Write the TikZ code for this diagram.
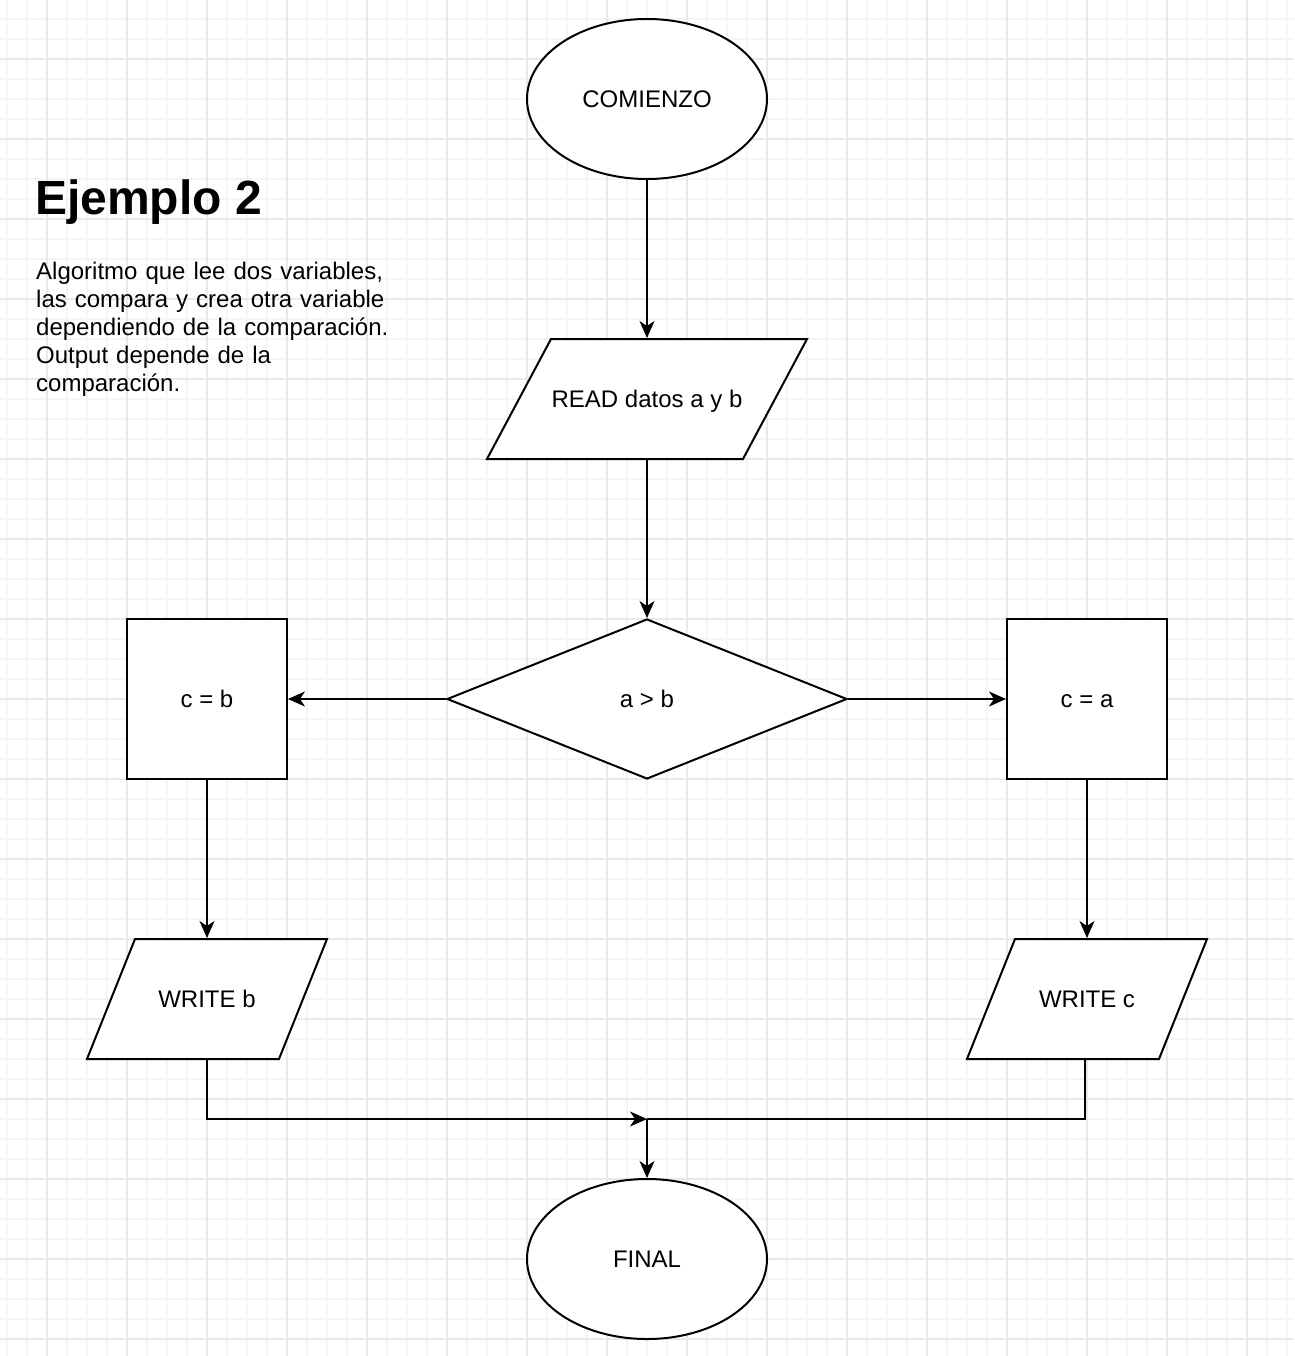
\documentclass[tikz,border=0pt]{standalone}
\usepackage{fontspec}
\setmainfont{Liberation Sans}
\usetikzlibrary{shapes.geometric,arrows.meta}
\definecolor{gridminor}{HTML}{F5F5F5}
\definecolor{gridmajor}{HTML}{E9E9E9}
\newcommand\ioshape[3]{\filldraw[shapeline] ([shift={(#3-#2,-60)}]#1) -- ([shift={(#2,-60)}]#1) -- ([shift={(#2-#3,60)}]#1) -- ([shift={(-#2,60)}]#1) -- cycle;}
\begin{document}
\begin{tikzpicture}[x=1pt,y=-1pt,
  lbl/.style={font=\fontsize{24}{28}\selectfont, text height=17.2pt, text depth=0pt, inner sep=0pt},
  shp/.style={lbl, draw, line width=2pt, fill=white},
  shapeline/.style={line width=2pt, fill=white, draw=black, line join=miter},
  term/.style={shp, ellipse, minimum width=240pt, minimum height=160pt},
  proc/.style={shp, rectangle, minimum width=160pt, minimum height=160pt},
  dec/.style={shp, diamond, aspect=2.5, minimum width=400pt, minimum height=160pt},
  iobox/.style={lbl, rectangle, minimum height=120pt, outer sep=1pt},
  conn/.style={line width=2pt, -{Stealth[length=17pt,width=15pt,inset=5pt]}},
  plain/.style={line width=2pt},
  minorgrid/.style={gridminor, line width=1.3pt},
  majorgrid/.style={gridmajor, line width=1.3pt}
]
\useasboundingbox (0,0) rectangle (1294,1356);
\fill[white] (0,0) rectangle (1294,1356);
% grid
\foreach \x in {7,27,...,1287} \draw[minorgrid] (\x,0) -- (\x,1356);
\foreach \y in {19,39,...,1339} \draw[minorgrid] (0,\y) -- (1294,\y);
\foreach \x in {47,127,...,1247} \draw[majorgrid] (\x,0) -- (\x,1356);
\foreach \y in {59,139,...,1339} \draw[majorgrid] (0,\y) -- (1294,\y);

% title and description
\node[font=\fontsize{48}{56}\selectfont\bfseries, anchor=base west, inner sep=0pt] (title) at (35,214.3) {Ejemplo 2};
\node[font=\fontsize{24}{28}\selectfont, anchor=base west, inner sep=0pt, text width=380pt, align=left] (desc) at (36,279.3)
  {Algoritmo que lee dos variables,\\las compara y crea otra variable\\dependiendo de la comparación.\\Output depende de la\\comparación.};

% shapes
\node[term] (start) at (647,99) {COMIENZO};

\coordinate (readc) at (647,399);
\ioshape{readc}{160}{64}
\node[iobox, minimum width=320pt] (read) at (readc) {READ datos a y b};

\node[dec] (dec) at (647,699) {a > b};
\node[proc] (cb) at (207,699) {c = b};
\node[proc] (ca) at (1087,699) {c = a};

\coordinate (wbc) at (207,999);
\ioshape{wbc}{120}{48}
\node[iobox, minimum width=240pt] (wb) at (wbc) {WRITE b};

\coordinate (wcc) at (1087,999);
\ioshape{wcc}{120}{48}
\node[iobox, minimum width=240pt] (wc) at (wcc) {WRITE c};

\node[term] (final) at (647,1259) {FINAL};
\coordinate (j) at (647,1119);

% connectors
\draw[conn] (start.south) -- (read.north);
\draw[conn] (read.south) -- (dec.north);
\draw[conn] (dec.west) -- (cb.east);
\draw[conn] (dec.east) -- (ca.west);
\draw[conn] (cb.south) -- (wb.north);
\draw[conn] (ca.south) -- (wc.north);
\draw[plain] ([xshift=-2pt]wc.south) |- (j);
\draw[conn] (wb.south) |- (j);
\draw[conn] (j) -- (final.north);
\end{tikzpicture}
\end{document}
